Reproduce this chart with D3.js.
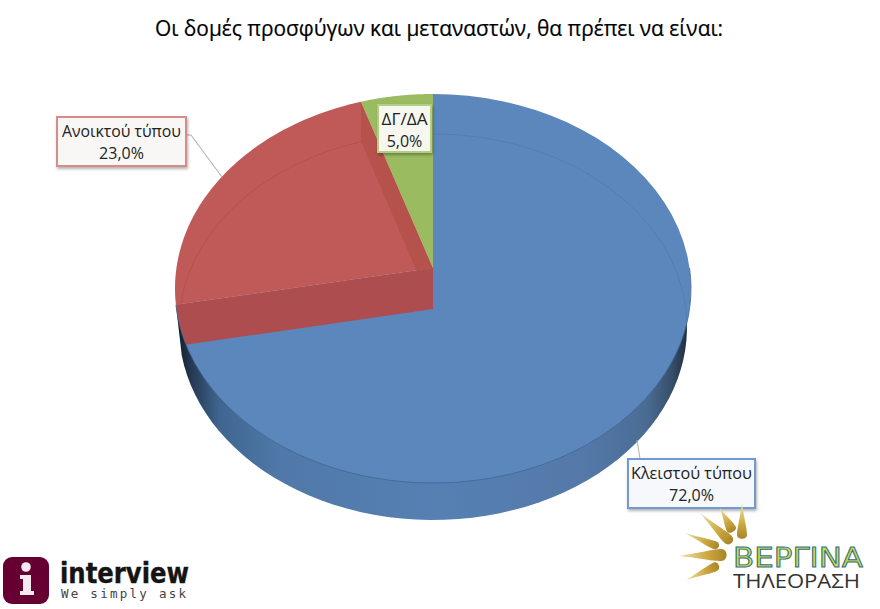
<!DOCTYPE html>
<html><head><meta charset="utf-8">
<style>html,body{margin:0;padding:0;background:#fff}svg{display:block}</style>
<script src="https://cdn.jsdelivr.net/npm/d3@7"></script></head><body>
<svg id="c" width="880" height="609"></svg>
<script>
const categories = ["Κλειστού τύπου","Ανοικτού τύπου","ΔΓ/ΔΑ"];
const values = [72.0,23.0,5.0];
const valueLabels = ["72,0%","23,0%","5,0%"];
const colors = ["#5b87bd","#bf5a58","#9bbb61"];
const title = "Οι δομές προσφύγων και μεταναστών, θα πρέπει να είναι:";

const svg = d3.select("#c");
const defs = svg.append("defs");

const FONT = "'Open Sans','Noto Sans',sans-serif";
// plane → screen for the top and bottom discs of the tilted pie
const topX = d3.scaleLinear().domain([-1,1]).range([175,691]);
const topY = d3.scaleLinear().domain([-1,1]).range([483,94]);
const botX = d3.scaleLinear().domain([-1,1]).range([179,687]);
const botY = d3.scaleLinear().domain([-1,1]).range([520,134]);
const TILT_TOP = 0.105, TILT_BOT = 0.093;

function proj(theta, r, t, sx, sy){
  const x = r*Math.sin(theta), y = r*Math.cos(theta);
  const d = 1 + t*y;
  return [sx(x*Math.sqrt(1-t*t)/d), sy((y+t)/d)];
}
const pTop = (th,r=1)=>proj(th,r,TILT_TOP,topX,topY);
const pBot = (th,r=1)=>proj(th,r,TILT_BOT,botX,botY);
const line = d3.line();
const rim = (a,b,f)=>d3.range(0,61).map(i=>f(a+(b-a)*i/60));

const arcs = d3.pie().sort(null).value(d=>d)(values);
const sector = a => line([pTop(0,0),...rim(a.startAngle,a.endAngle,pTop)])+"Z";
const [blue,red,green] = arcs;
const full = rim(0,2*Math.PI,pTop);

// gradients
const g = defs.append("linearGradient").attr("id","side").attr("gradientUnits","userSpaceOnUse")
  .attr("x1",179).attr("x2",687).attr("y1",0).attr("y2",0);
[[0,"#14202f"],[0.025,"#263a54"],[0.08,"#3f6690"],[0.2,"#5079a9"],[0.5,"#5680b3"],[0.8,"#5479a8"],[0.92,"#4a6c94"],[0.97,"#374f6b"],[1,"#202f40"]]
 .forEach(s=>g.append("stop").attr("offset",s[0]).attr("stop-color",s[1]));
const sh = defs.append("filter").attr("id","shadow").attr("x","-10%").attr("y","-10%").attr("width","125%").attr("height","130%");
sh.append("feDropShadow").attr("dx",1).attr("dy",2).attr("stdDeviation",1.5).attr("flood-color","#000").attr("flood-opacity",0.3);
defs.append("clipPath").attr("id","topClip").append("path").attr("d",line(full)+"Z");

// side: only the part of the lower rim that shows beneath the blue slice, tapering into the top rim
const sidePts = rim(Math.PI*0.47,blue.endAngle,pBot).filter(p=>p[0]>300||p[1]>352);
svg.append("path").attr("d",line([...sidePts,pTop(blue.endAngle)])+"Z").attr("fill","url(#side)");
// top faces
svg.append("path").attr("d",sector(blue)).attr("fill",colors[0]);
svg.append("path").attr("d",line(rim(Math.PI*0.5,blue.endAngle,pTop))).attr("fill","none").attr("stroke","#3f6796").attr("stroke-width",0.8);
svg.append("path").attr("d",sector(red)).attr("fill",colors[1]);
svg.append("path").attr("d",sector(green)).attr("fill",colors[2]);

const inner = svg.append("g").attr("clip-path","url(#topClip)");
// walls of the cut
const wall = th => line([pTop(0,0),pTop(th),pBot(th),pBot(0,0)])+"Z";
inner.append("path").attr("d",wall(green.startAngle)).attr("fill","#ad4c41").attr("fill-opacity",0.55);
inner.append("path").attr("d",wall(red.startAngle)).attr("fill","#ad4d4f");
// far rim of the lower disc, seen through the top
inner.append("path").attr("d",line(rim(red.startAngle,red.endAngle,pBot).filter(p=>p[1]<305))).attr("fill","none").attr("stroke","#a64a4a").attr("stroke-width",0.8).attr("stroke-opacity",0.6);
inner.append("path").attr("d",line(rim(0,Math.PI*0.55,pBot))).attr("fill","none").attr("stroke","#4a74a6").attr("stroke-width",0.8).attr("stroke-opacity",0.6);

// title
svg.append("text").attr("x",439).attr("y",36).attr("text-anchor","middle")
  .attr("font-family",FONT).attr("font-size",22).attr("fill","#000").attr("stroke","#000").attr("stroke-width",0.2)
  .attr("textLength",568).attr("lengthAdjust","spacingAndGlyphs").text(title);

// leaders
const leaders = [[[637,440],[640,459]],[[187,135],[191,135],[222,177]]];
leaders.forEach(l=>svg.append("path").attr("d",line(l)).attr("fill","none").attr("stroke","#b4b4b4").attr("stroke-width",1.1));

// labels
const boxes = [
 {x:628,y:459,w:127,h:49,stroke:"#6f9ad2",fill:"#f6f8fb",tl:121},
 {x:57,y:117,w:129,h:49,stroke:"#d58c8a",fill:"#f9f7f5",tl:119},
 {x:378,y:105,w:53,h:47,stroke:"#b5cc85",fill:"#f6f8f0",tl:46}
];
boxes.forEach((b,i)=>{
  svg.append("rect").attr("x",b.x).attr("y",b.y).attr("width",b.w).attr("height",b.h)
    .attr("fill",b.fill).attr("stroke",b.stroke).attr("stroke-width",2).attr("filter","url(#shadow)");
  svg.append("text").attr("x",b.x+b.w/2).attr("y",b.y+19.5).attr("text-anchor","middle")
    .attr("font-family",FONT).attr("font-size",16).attr("fill","#222")
    .attr("textLength",b.tl).attr("lengthAdjust","spacingAndGlyphs").text(categories[i]);
  svg.append("text").attr("x",b.x+b.w/2).attr("y",b.y+42).attr("text-anchor","middle")
    .attr("font-family",FONT).attr("font-size",16).attr("fill","#222").text(valueLabels[i]);
});

// interview logo
const lg = svg.append("g");
lg.append("rect").attr("x",3).attr("y",557).attr("width",46).attr("height",47).attr("rx",9).attr("fill","#660033");
lg.append("circle").attr("cx",26).attr("cy",567).attr("r",4.8).attr("fill","#f3e9ee");
lg.append("path").attr("d","M20 575H31V591H34V595H20V591H23V579H20Z").attr("fill","#f3e9ee");
lg.append("text").attr("x",60).attr("y",583).attr("font-family","'DejaVu Sans',sans-serif").attr("font-weight",700)
  .attr("font-size",28).attr("fill","#141414").attr("stroke","#141414").attr("stroke-width",0.4).attr("textLength",129).attr("lengthAdjust","spacingAndGlyphs").text("interview");
lg.append("text").attr("x",61).attr("y",598).attr("font-family","'DejaVu Sans Mono',monospace")
  .attr("font-size",12.5).attr("fill","#444").attr("textLength",125).text("We simply ask");

// Vergina logo
const rg = defs.append("linearGradient").attr("id","gold").attr("x1",0).attr("x2",1).attr("y1",0).attr("y2",0);
rg.append("stop").attr("offset",0).attr("stop-color","#efe3b0");
rg.append("stop").attr("offset",0.6).attr("stop-color","#cda83e");
rg.append("stop").attr("offset",1).attr("stop-color","#a8842a");
const rays = [[[679,556],[727,555],6],[[685,533],[719,547],4],[[700,513],[732,543],5],[[720,508],[733,532],5],[[742,503],[742,539],5],[[686,580],[719,565],4.5]];
rays.forEach(([a,b,w])=>{
  const dx=b[0]-a[0],dy=b[1]-a[1],L=Math.hypot(dx,dy),ang=Math.atan2(dy,dx)*180/Math.PI;
  svg.append("path").attr("d",`M0 0C${L*0.5} ${-w*0.5} ${L*0.7} ${-w} ${L*0.88} ${-w}C${L*1.03} ${-w} ${L*1.03} ${w} ${L*0.88} ${w}C${L*0.7} ${w} ${L*0.5} ${w*0.5} 0 0Z`)
    .attr("transform",`translate(${a[0]},${a[1]}) rotate(${ang})`).attr("fill","url(#gold)");
});
svg.append("text").attr("x",733).attr("y",567).attr("font-family","'DejaVu Sans',sans-serif").attr("font-size",26)
  .attr("fill","#c9da4a").attr("stroke","#2f6f86").attr("stroke-width",0.9).attr("textLength",130).attr("lengthAdjust","spacingAndGlyphs").text("ΒΕΡΓΙΝΑ");
svg.append("text").attr("x",733).attr("y",588).attr("font-family",FONT).attr("font-size",20).attr("fill","#333")
  .attr("textLength",127).attr("lengthAdjust","spacingAndGlyphs").text("ΤΗΛΕΟΡΑΣΗ");
</script></body></html>
